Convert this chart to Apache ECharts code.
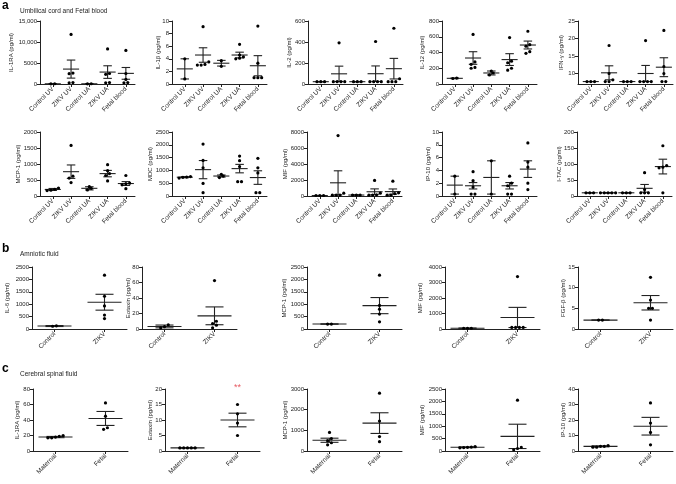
<!DOCTYPE html>
<html lang="en">
<head>
<meta charset="UTF-8" />
<title>ZIKV cytokines</title>
<script src="https://cdn.jsdelivr.net/npm/echarts@6.0.0/dist/echarts.min.js"></script>
<style>
  body { margin: 0; background: #fff; }
  #chart { width: 676px; height: 484px; }
</style>
</head>
<body>
<div id="chart"></div>
<script>
// group names
let catsA = ["Control UV", "ZIKV UV", "Control UA", "ZIKV UA", "Fetal blood"];
let catsB = ["Control", "ZIKV"];
let catsC = ["Maternal", "Fetal"];

// a: umbilical cord and fetal blood (points per group, mean, SEM)
let il1raPts = [[60, 40], [11800, 2600, 2450, 350, 300], [60, 40], [8350, 2500, 2300, 350, 300], [8000, 2500, 1100, 350, 300]];
let il1raMean = [50, 3550, 50, 2840, 2530];
let il1raSem = [10, 2150, 10, 1500, 1400];

let il1bPts = [[4.0, 0.8], [9.1, 3.5, 3.1, 3.0, 3.0], [3.7, 2.8], [6.3, 4.6, 4.3, 4.1, 4.0], [9.2, 3.3, 1.0, 1.0, 1.0]];
let il1bMean = [2.4, 4.6, 3.3, 4.6, 2.9];
let il1bSem = [1.6, 1.15, 0.45, 0.45, 1.6];

let il2Pts = [[22, 22, 22], [392, 22, 22, 22, 22], [22, 22, 22], [405, 22, 22, 22, 22], [531, 50, 22, 22, 22]];
let il2Mean = [22, 97, 22, 98, 146];
let il2Sem = [0, 73, 0, 74, 98];

let il12Pts = [[75, 70], [630, 280, 250, 210, 200], [165, 140, 115], [590, 290, 270, 200, 175], [670, 500, 480, 410, 390]];
let il12Mean = [72, 330, 140, 310, 495];
let il12Sem = [4, 80, 25, 75, 50];

let ifngPts = [[7.7, 7.7, 7.7], [18, 10, 8.2, 7.7, 7.7], [7.7, 7.7, 7.7], [19.4, 7.7, 7.7, 7.7, 7.7], [22.3, 12, 10, 7.7, 7.7]];
let ifngMean = [7.7, 10.2, 7.7, 10.0, 11.8];
let ifngSem = [0, 2.0, 0, 2.3, 2.7];
let ifngTicks = [10, 15, 20, 25];

let mcp1Pts = [[250, 210, 180, 170], [1580, 620, 560, 420], [290, 240, 190], [980, 790, 700, 640, 470], [640, 400, 380, 350, 230]];
let mcp1Mean = [205, 760, 240, 700, 390];
let mcp1Sem = [30, 210, 50, 100, 60];

let mdcPts = [[760, 740, 730, 700], [2030, 1390, 1100, 490, 130], [850, 780, 720], [1560, 1380, 1150, 560, 560], [1470, 1100, 900, 130, 130]];
let mdcMean = [735, 1030, 780, 1070, 720];
let mdcSem = [20, 355, 40, 165, 265];

let mifPts = [[60, 60, 60], [7550, 350, 100, 100, 100], [120, 120, 120], [1950, 350, 150, 100, 100], [1850, 400, 300, 100, 100]];
let mifMean = [60, 1650, 120, 530, 550];
let mifSem = [5, 1500, 5, 360, 330];

let ip10Pts = [[3.1, 0.3], [3.8, 2.4, 1.4, 0.3, 0.3], [5.5, 0.3], [3.1, 2.0, 1.6, 0.3, 0.3], [8.3, 5.3, 4.5, 2.0, 1.0]];
let ip10Mean = [1.7, 1.6, 2.9, 1.6, 4.2];
let ip10Sem = [1.4, 0.5, 2.6, 0.5, 1.3];

let itacPts = [[10, 10, 10], [10, 10, 10, 10, 10], [10, 10, 10], [73, 20, 10, 10, 10], [157, 95, 90, 88, 10]];
let itacMean = [10, 10, 10, 24, 92];
let itacSem = [0, 0, 0, 12, 23];

// b: amniotic fluid
let afIl6Pts = [[130, 110], [2170, 1320, 930, 560, 420]];
let afIl6Mean = [120, 1080];
let afIl6Sem = [20, 320];

let afEotaxinPts = [[5.5, 3, 1.5], [62.5, 10, 7, 5, 1.5]];
let afEotaxinMean = [3.3, 17];
let afEotaxinSem = [1.8, 11.5];

let afMcp1Pts = [[200, 200], [2170, 950, 800, 600, 290]];
let afMcp1Mean = [200, 943];
let afMcp1Sem = [5, 325];

let afMifPts = [[50, 50, 50], [3380, 100, 100, 100, 100]];
let afMifMean = [50, 745];
let afMifSem = [3, 650];

let afFgfPts = [[2.15, 2.15], [12.5, 7, 5, 5, 2.15]];
let afFgfMean = [2.15, 6.35];
let afFgfSem = [0, 1.75];

// c: cerebral spinal fluid
let csfIl1raPts = [[20, 19, 18, 17, 17], [62, 45, 30, 28]];
let csfIl1raMean = [18, 42];
let csfIl1raSem = [0.8, 9];

let csfEotaxinPts = [[1, 1, 1, 1, 1], [15, 12, 9, 5]];
let csfEotaxinMean = [1, 10];
let csfEotaxinSem = [0, 2.2];
let csfEotaxinSig = [[1, 20.5, "**"]];

let csfMcp1Pts = [[900, 600, 500, 400, 300], [2800, 1450, 700, 450]];
let csfMcp1Mean = [520, 1350];
let csfMcp1Sem = [100, 500];

let csfMifPts = [[180, 160, 150, 140, 130], [2050, 150, 100, 50]];
let csfMifMean = [150, 590];
let csfMifSem = [15, 490];

let csfIp10Pts = [[3.5, 3, 3, 2.5, 2.5], [31, 18, 12, 4]];
let csfIp10Mean = [3, 16];
let csfIp10Sem = [0.3, 5.7];

const FONT = "Liberation Sans, Arial, sans-serif";
const INK = "#222";

function fmtThousands(v) {
    return v >= 10000 ? String(v).replace(/\B(?=(\d{3})+(?!\d))/g, ",") : String(v);
}

// panel layout: left / top / height in px, name gap for the rotated y title
let panels = [
    { x: 40, y: 21, h: 63, cats: catsA, name: "IL-1RA (pg/ml)", max: 15000, step: 5000, pts: il1raPts, mean: il1raMean, sem: il1raSem, gap: 26, fmt: fmtThousands },
    { x: 172, y: 21, h: 63, cats: catsA, name: "IL-1β (pg/ml)", max: 10, step: 2, pts: il1bPts, mean: il1bMean, sem: il1bSem, gap: 11 },
    { x: 308, y: 21, h: 63, cats: catsA, name: "IL-2 (pg/ml)", max: 600, step: 200, pts: il2Pts, mean: il2Mean, sem: il2Sem, gap: 16 },
    { x: 442, y: 21, h: 63, cats: catsA, name: "IL-12 (pg/ml)", max: 800, step: 200, pts: il12Pts, mean: il12Mean, sem: il12Sem, gap: 17 },
    { x: 578, y: 21, h: 63, cats: catsA, name: "IFN-γ (pg/ml)", min: 7, max: 25, ticks: ifngTicks, pts: ifngPts, mean: ifngMean, sem: ifngSem, gap: 14 },

    { x: 40, y: 132, h: 64, cats: catsA, name: "MCP-1 (pg/ml)", max: 2000, step: 500, pts: mcp1Pts, mean: mcp1Mean, sem: mcp1Sem, gap: 19 },
    { x: 172, y: 132, h: 64, cats: catsA, name: "MDC (pg/ml)", max: 2500, step: 500, pts: mdcPts, mean: mdcMean, sem: mdcSem, gap: 19 },
    { x: 307, y: 132, h: 64, cats: catsA, name: "MIF (pg/ml)", max: 8000, step: 2000, pts: mifPts, mean: mifMean, sem: mifSem, gap: 19 },
    { x: 442, y: 132, h: 64, cats: catsA, name: "IP-10 (pg/ml)", max: 10, step: 2, pts: ip10Pts, mean: ip10Mean, sem: ip10Sem, gap: 11 },
    { x: 577, y: 132, h: 64, cats: catsA, name: "I-TAC (pg/ml)", max: 200, step: 50, pts: itacPts, mean: itacMean, sem: itacSem, gap: 15 },

    { x: 32, y: 267, h: 62, cats: catsB, name: "IL-6 (pg/ml)", max: 2500, step: 500, pts: afIl6Pts, mean: afIl6Mean, sem: afIl6Sem, gap: 22 },
    { x: 142, y: 267, h: 62, cats: catsB, name: "Eotaxin (pg/ml)", max: 80, step: 20, pts: afEotaxinPts, mean: afEotaxinMean, sem: afEotaxinSem, gap: 11 },
    { x: 307, y: 267, h: 62, cats: catsB, name: "MCP-1 (pg/ml)", max: 2500, step: 500, pts: afMcp1Pts, mean: afMcp1Mean, sem: afMcp1Sem, gap: 20 },
    { x: 445, y: 267, h: 62, cats: catsB, name: "MIF (pg/ml)", max: 4000, step: 1000, pts: afMifPts, mean: afMifMean, sem: afMifSem, gap: 22 },
    { x: 578, y: 267, h: 62, cats: catsB, name: "FGF-β (pg/ml)", max: 15, step: 5, pts: afFgfPts, mean: afFgfMean, sem: afFgfSem, gap: 12 },

    { x: 33, y: 389, h: 62, cats: catsC, name: "IL-1RA (pg/ml)", max: 80, step: 20, pts: csfIl1raPts, mean: csfIl1raMean, sem: csfIl1raSem, gap: 13 },
    { x: 165, y: 389, h: 62, cats: catsC, name: "Eotaxin (pg/ml)", max: 20, step: 5, pts: csfEotaxinPts, mean: csfEotaxinMean, sem: csfEotaxinSem, gap: 12, sig: csfEotaxinSig },
    { x: 307, y: 389, h: 62, cats: catsC, name: "MCP-1 (pg/ml)", max: 3000, step: 1000, pts: csfMcp1Pts, mean: csfMcp1Mean, sem: csfMcp1Sem, gap: 19 },
    { x: 445, y: 389, h: 62, cats: catsC, name: "MIF (pg/ml)", max: 2500, step: 500, pts: csfMifPts, mean: csfMifMean, sem: csfMifSem, gap: 20 },
    { x: 578, y: 389, h: 62, cats: catsC, name: "IP-10 (pg/ml)", max: 40, step: 10, pts: csfIp10Pts, mean: csfIp10Mean, sem: csfIp10Sem, gap: 12 },
];

// spread dots that would sit on top of each other (prism style)
function swarm(vals, pxPerUnit) {
    let order = vals.map((v, i) => i).sort((a, b) => vals[a] - vals[b]);
    let offs = new Array(vals.length).fill(0);
    let groups = [];
    order.forEach(i => {
        let g = groups[groups.length - 1];
        if (g && (vals[i] - vals[g[0]]) * pxPerUnit < 3.2) g.push(i);
        else groups.push([i]);
    });
    groups.forEach(g => g.forEach((i, k) => { offs[i] = (k - (g.length - 1) / 2) * 3.8; }));
    return offs;
}

function renderDot(params, api) {
    let p = api.coord([api.value(0), api.value(1)]);
    return {
        type: "circle",
        shape: { cx: p[0] + api.value(2), cy: p[1], r: 1.6 },
        style: { fill: "#000" },
    };
}

function renderBar(params, api) {
    let i = api.value(0), m = api.value(1), s = api.value(2);
    let c = api.coord([i, m]);
    let hi = api.coord([i, m + s]);
    let lo = api.coord([i, m - s]);
    let unit = api.size([1, 0])[0];
    let half = Math.min(unit * 0.44, 17);
    let cap = half * 0.53;
    let seg = (x1, y1, x2, y2) => ({
        type: "line",
        shape: { x1: x1, y1: y1, x2: x2, y2: y2 },
        style: { stroke: INK, lineWidth: 1.1 },
    });
    return {
        type: "group",
        children: [
            seg(c[0], hi[1], c[0], lo[1]),
            seg(c[0] - cap, hi[1], c[0] + cap, hi[1]),
            seg(c[0] - cap, lo[1], c[0] + cap, lo[1]),
            seg(c[0] - half, c[1], c[0] + half, c[1]),
        ],
    };
}

let grids = [], xAxes = [], yAxes = [], series = [];

panels.forEach((p, k) => {
    let n = p.cats.length;
    let idx = p.cats.map((c, i) => i);
    let min = p.min || 0;
    grids.push({ left: p.x, top: p.y, width: 95, height: p.h, outerBoundsMode: "none" });

    xAxes.push({
        gridIndex: k,
        type: "value",
        min: n === 5 ? -0.7 : -0.45,
        max: n === 5 ? 4.5 : 1.45,
        splitLine: { show: false },
        axisLine: { show: true, onZero: false, lineStyle: { color: INK, width: 1 } },
        axisTick: { show: true, customValues: idx, length: 3, lineStyle: { color: INK } },
        axisLabel: {
            customValues: idx,
            formatter: v => p.cats[Math.round(v)],
            rotate: 45, fontSize: 6.5, margin: 4, color: INK, fontFamily: FONT,
        },
    });

    let yAxis = {
        gridIndex: k,
        type: "value",
        min: min,
        max: p.max,
        name: p.name,
        nameLocation: "middle",
        nameRotate: 90,
        nameGap: p.gap,
        nameMoveOverlap: false,
        nameTextStyle: { fontSize: 6, color: INK, fontFamily: FONT },
        splitLine: { show: false },
        axisLine: { show: true, onZero: false, lineStyle: { color: INK, width: 1 } },
        axisTick: { show: true, length: 3, lineStyle: { color: INK } },
        axisLabel: { fontSize: 6, margin: 3, color: INK, fontFamily: FONT, formatter: p.fmt || (v => String(v)) },
    };
    if (p.ticks) {
        yAxis.axisTick.customValues = p.ticks;
        yAxis.axisLabel.customValues = p.ticks;
    } else {
        yAxis.interval = p.step;
    }
    yAxes.push(yAxis);

    let ppu = p.h / (p.max - min);
    let dots = [];
    p.pts.forEach((vals, i) => {
        let offs = swarm(vals, ppu);
        vals.forEach((v, j) => dots.push([i, v, offs[j]]));
    });

    series.push({
        type: "custom", xAxisIndex: k, yAxisIndex: k, renderItem: renderBar, z: 2,
        encode: { x: 0, y: 1 },
        data: p.mean.map((m, i) => [i, m, p.sem[i]]),
    });
    series.push({
        type: "custom", xAxisIndex: k, yAxisIndex: k, renderItem: renderDot, z: 3,
        encode: { x: 0, y: 1 },
        data: dots,
    });
    if (p.sig) {
        series.push({
            type: "scatter", xAxisIndex: k, yAxisIndex: k, symbolSize: 0, z: 4, clip: false,
            data: p.sig.map(s => [s[0], s[1], s[2]]),
            label: {
                show: true, position: "inside", formatter: d => d.value[2],
                color: "#e0303a", fontSize: 9, fontFamily: FONT,
            },
        });
    }
});

function heading(letter, text, top) {
    return [
        { type: "text", left: 2, top: top, style: { text: letter, font: "bold 12px " + FONT, fill: "#000" } },
        { type: "text", left: 20, top: top + 8, style: { text: text, font: "6.5px " + FONT, fill: INK } },
    ];
}

let myChart = echarts.init(document.getElementById("chart"), null, { renderer: "canvas" });
myChart.setOption({
    animation: false,
    backgroundColor: "#fff",
    grid: grids,
    xAxis: xAxes,
    yAxis: yAxes,
    series: series,
    graphic: [].concat(
        heading("a", "Umbilical cord and Fetal blood", 0),
        heading("b", "Amniotic fluid", 243),
        heading("c", "Cerebral spinal fluid", 363)
    ),
});
</script>
</body>
</html>
